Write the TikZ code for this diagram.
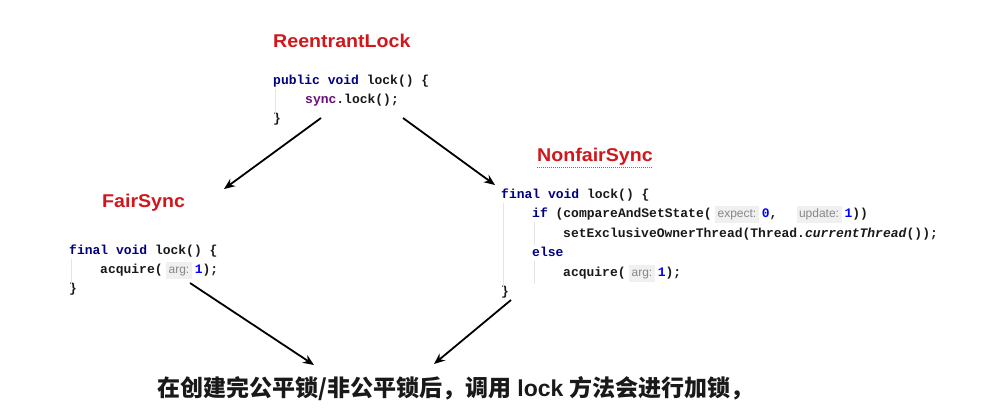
\documentclass[tikz,border=0pt]{standalone}
\usepackage{fontspec}
\setmainfont{Liberation Sans}
\newfontfamily\codefont{Liberation Mono}
\newfontfamily\hintfont{Liberation Sans}
\newfontfamily\cjkfont{Noto Sans CJK SC}
\newfontfamily\latfont{Liberation Sans}
\usetikzlibrary{arrows.meta}
\definecolor{titlered}{RGB}{208,24,28}
\definecolor{kw}{RGB}{0,0,128}
\definecolor{fieldc}{RGB}{102,14,122}
\definecolor{numc}{RGB}{0,0,255}
\definecolor{hintfg}{RGB}{135,135,135}
\definecolor{hintbg}{RGB}{240,240,240}
\definecolor{guide}{RGB}{228,228,228}
\definecolor{codec}{RGB}{25,25,25}
\newcommand{\kwd}[1]{\textcolor{kw}{#1}}
\newcommand{\numv}[1]{\textcolor{numc}{#1}}
\newcommand{\hnt}[1]{\hspace{3.5pt}{\setlength{\fboxsep}{2.5pt}\colorbox{hintbg}{\hintfont\mdseries\fontsize{12}{12}\selectfont\color{hintfg}\strut #1}}\hspace{3pt}}
\begin{document}
\begin{tikzpicture}[x=1pt,y=-1pt,
  title/.style={anchor=base west, inner sep=0, text=titlered, font=\bfseries\fontsize{18.5}{18.5}\selectfont},
  code/.style={anchor=base west, inner sep=0, text=codec, font=\codefont\bfseries\fontsize{13}{13}\selectfont},
  guideline/.style={draw=guide, line width=0.8pt},
  arr/.style={line width=1.8pt, -{Stealth[length=11pt,width=9pt]}}]
\useasboundingbox[fill=white] (0,0) rectangle (998,410);

% ReentrantLock
\node[title] (rt) at (273,47) {\scalebox{1.06}[1]{ReentrantLock}};
\node[code] (r1) at (273,84) {\kwd{public void} lock() \{};
\node[code] (r2) at (305,103) {\textcolor{fieldc}{sync}.lock();};
\node[code] (r3) at (273,122) {\}};
\draw[guideline] (275.5,89) -- (275.5,114);

% FairSync
\node[title] (ft) at (102,207) {\scalebox{1.06}[1]{FairSync}};
\node[code] (f1) at (69,254) {\kwd{final void} lock() \{};
\node[code] (f2) at (100,273) {acquire(\hnt{arg:}\numv{1});};
\node[code] (f3) at (69,292) {\}};
\draw[guideline] (71.5,259) -- (71.5,284);

% NonfairSync
\node[title] (nt) at (537,161) {\scalebox{1.06}[1]{NonfairSync}};
\draw[titlered!80, line width=1pt, dash pattern=on 1pt off 1pt] (nt.south west) ++(0,2.5) -- ([yshift=-2.5pt]nt.south east);
\node[code] (n1) at (501,198) {\kwd{final void} lock() \{};
\node[code] (n2) at (532,217) {\kwd{if} (compareAndSetState(\hnt{expect:}\numv{0},\ \ \hnt{update:}\numv{1}))};
\node[code] (n3) at (563,237) {setExclusiveOwnerThread(Thread.\textit{currentThread}());};
\node[code] (n4) at (532,256) {\kwd{else}};
\node[code] (n5) at (563,276) {acquire(\hnt{arg:}\numv{1});};
\node[code] (n6) at (501,295) {\}};
\draw[guideline] (503.5,203) -- (503.5,287);
\draw[guideline] (534.5,222) -- (534.5,245);
\draw[guideline] (534.5,261) -- (534.5,284);

% bottom text
\node[anchor=base west, inner sep=0, text=black!90, font=\cjkfont\bfseries\fontsize{23}{23}\selectfont] (bt) at (157,396) {在创建完公平锁/非公平锁后，调用{\latfont\bfseries\ lock\ }方法会进行加锁，};

% arrows
\coordinate (a1s) at (321,118); \coordinate (a1e) at (224,189);
\coordinate (a2s) at (403,118); \coordinate (a2e) at (495,185);
\coordinate (a3s) at (190,283); \coordinate (a3e) at (314,365);
\coordinate (a4s) at (511,300); \coordinate (a4e) at (434,364);
\draw[arr] (a1s) -- (a1e);
\draw[arr] (a2s) -- (a2e);
\draw[arr] (a3s) -- (a3e);
\draw[arr] (a4s) -- (a4e);
\end{tikzpicture}
\end{document}
